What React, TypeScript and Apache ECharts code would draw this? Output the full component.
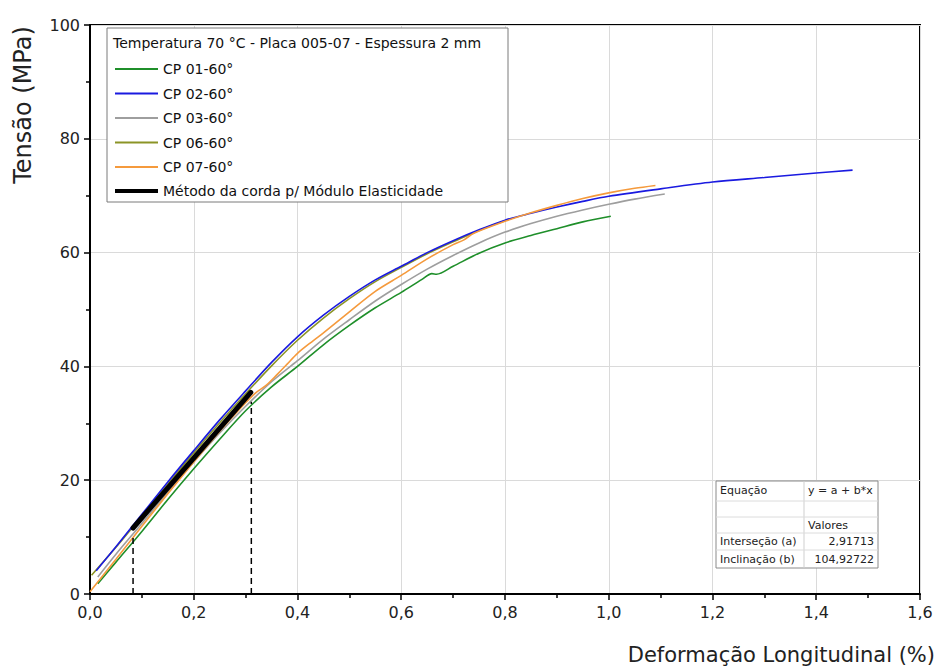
import React, { useEffect, useRef } from "react";
import * as echarts from "echarts";

type Pt = [number, number];

const cp01: Pt[] = [[0.015,1.8],[0.05,5.6],[0.1,11.0],[0.15,16.6],[0.2,22.0],[0.25,27.2],[0.3,32.2],[0.35,36.4],[0.4,40.0],[0.45,43.8],[0.5,47.2],[0.55,50.3],[0.6,53.0],[0.64,55.3],[0.659,56.3],[0.668,56.2],[0.7,57.6],[0.75,59.9],[0.8,61.7],[0.85,63.0],[0.9,64.2],[0.95,65.4],[1.004,66.4]];
const cp02: Pt[] = [[0.012,4.1],[0.05,8.3],[0.1,14.0],[0.15,19.7],[0.2,25.2],[0.25,30.6],[0.3,35.7],[0.35,40.7],[0.4,45.2],[0.45,49.0],[0.5,52.3],[0.55,55.2],[0.6,57.6],[0.65,60.0],[0.7,62.1],[0.75,64.0],[0.8,65.7],[0.85,66.9],[0.9,68.0],[0.95,69.0],[1.0,69.9],[1.1,71.2],[1.2,72.4],[1.3,73.2],[1.4,74.0],[1.47,74.5]];
const cp03: Pt[] = [[0.015,3.0],[0.05,7.0],[0.1,12.4],[0.15,17.9],[0.2,23.2],[0.25,28.3],[0.3,33.0],[0.35,37.3],[0.4,41.0],[0.45,44.8],[0.5,48.2],[0.55,51.5],[0.6,54.4],[0.65,57.1],[0.7,59.5],[0.75,61.7],[0.8,63.6],[0.85,65.1],[0.9,66.4],[0.95,67.5],[1.0,68.5],[1.05,69.4],[1.108,70.3]];
const cp06: Pt[] = [[0.003,3.3],[0.05,8.2],[0.1,13.7],[0.15,19.3],[0.2,24.8],[0.25,30.1],[0.3,35.2],[0.35,40.1],[0.4,44.6],[0.45,48.5],[0.5,51.9],[0.55,54.9],[0.6,57.4],[0.65,59.8],[0.7,61.9],[0.75,63.9],[0.8,65.6]];
const cp07: Pt[] = [[0.0,0.4],[0.05,6.1],[0.1,11.9],[0.15,17.6],[0.2,23.2],[0.25,28.6],[0.3,33.6],[0.32,35.4],[0.34,36.7],[0.36,38.5],[0.38,40.4],[0.4,42.3],[0.43,44.5],[0.45,45.9],[0.5,49.6],[0.55,53.2],[0.6,56.0],[0.65,58.9],[0.7,61.4],[0.72,62.2],[0.74,63.4],[0.8,65.5],[0.85,67.0],[0.9,68.3],[0.95,69.5],[1.0,70.5],[1.05,71.3],[1.09,71.8]];
const chord: Pt[] = [[0.083,11.6],[0.31,35.45]];
const dashLow: Pt[] = [[0.083,0],[0.083,10.3]];
const dashHigh: Pt[] = [[0.311,0],[0.311,33.8]];

const seriesNames = ["CP 01-60°", "CP 02-60°", "CP 03-60°", "CP 06-60°", "CP 07-60°"];
const chordName = "Método da corda p/ Módulo Elasticidade";
const legendTitle = "Temperatura 70 °C - Placa 005-07 - Espessura 2 mm";
const xAxisName = "Deformação Longitudinal (%)";
const yAxisName = "Tensão (MPa)";
const tableRows: [string, string][] = [["Equação", "y = a + b*x"], ["", ""], ["", "Valores"], ["Interseção (a)", "2,91713"], ["Inclinação (b)", "104,92722"]];

const FONT = "DejaVu Sans";

export default function App() {
  const ref = useRef<HTMLDivElement>(null);
  useEffect(() => {
    document.body.style.margin = "0";
    if (!ref.current) return;
    const chart = echarts.init(ref.current, null, { renderer: "svg" });
    const lineSeries = (name: string, data: Pt[], color: string, width = 1.6) => ({
      type: "line", name, data, symbol: "none", smooth: 0.3, color,
      lineStyle: { color, width }, z: 3,
    });
    const rowY = [481, 501, 517, 533, 550, 568];
    const tx0 = 716, tx1 = 878, tcol = 804;
    const tableEls: any[] = [
      { type: "rect", shape: { x: tx0, y: rowY[0], width: tx1 - tx0, height: rowY[5] - rowY[0] }, style: { fill: "#fff", stroke: "#8a8a8a", lineWidth: 1 }, z: 10 },
      { type: "line", shape: { x1: tcol, y1: rowY[0], x2: tcol, y2: rowY[5] }, style: { stroke: "#cfcfcf", lineWidth: 1 }, z: 11 },
    ];
    for (let i = 1; i < 5; i++) {
      tableEls.push({ type: "line", shape: { x1: tx0, y1: rowY[i], x2: tx1, y2: rowY[i] }, style: { stroke: "#dcdcdc", lineWidth: 1 }, z: 11 });
    }
    tableRows.forEach((r, i) => {
      const cy = i === 0 ? 490 : (rowY[i] + rowY[i + 1]) / 2;
      if (r[0]) tableEls.push({ type: "text", x: 720, y: cy, style: { text: r[0], font: `11px "${FONT}"`, fill: "#222", textVerticalAlign: "middle", textAlign: "left" }, z: 12 });
      if (r[1]) {
        const right = i >= 3;
        tableEls.push({ type: "text", x: right ? 874 : 808, y: cy, style: { text: r[1], font: `11px "${FONT}"`, fill: "#222", textVerticalAlign: "middle", textAlign: right ? "right" : "left" }, z: 12 });
      }
    });

    chart.setOption({
      animation: false,
      backgroundColor: "#fff",
      textStyle: { fontFamily: FONT },
      grid: { left: 90, right: 21, top: 25, bottom: 74, show: true, borderColor: "#000", borderWidth: 2, containLabel: false },
      xAxis: {
        type: "value", min: 0, max: 1.6, interval: 0.2,
        axisLine: { show: true, lineStyle: { color: "#000", width: 2 } },
        axisTick: { show: true, length: 6, lineStyle: { color: "#000", width: 1.5 } },
        minorTick: { show: true, splitNumber: 2, length: 4, lineStyle: { color: "#000", width: 1.5 } },
        splitLine: { show: true, lineStyle: { color: "#dadada", width: 1 } },
        axisLabel: { fontSize: 16, color: "#222", margin: 10, fontFamily: FONT, formatter: (v: number) => v.toFixed(1).replace(".", ",") },
      },
      yAxis: {
        type: "value", min: 0, max: 100, interval: 20,
        axisLine: { show: true, lineStyle: { color: "#000", width: 2 } },
        axisTick: { show: true, length: 6, lineStyle: { color: "#000", width: 1.5 } },
        minorTick: { show: true, splitNumber: 2, length: 4, lineStyle: { color: "#000", width: 1.5 } },
        splitLine: { show: true, lineStyle: { color: "#dadada", width: 1 } },
        axisLabel: { fontSize: 16, color: "#222", margin: 10, fontFamily: FONT },
      },
      legend: [
        {
          data: seriesNames, orient: "vertical", left: 110, top: 54, itemWidth: 43, itemHeight: 2, itemGap: 4.5,
          icon: "rect", textStyle: { fontSize: 14, color: "#111", lineHeight: 20, fontFamily: FONT }, z: 8, selectedMode: false,
        },
        {
          data: [chordName], orient: "vertical", left: 110, top: 176, itemWidth: 43, itemHeight: 4, itemGap: 4.5,
          icon: "rect", textStyle: { fontSize: 14, color: "#111", lineHeight: 20, fontFamily: FONT }, z: 8, selectedMode: false,
        },
      ],
      graphic: [
        { type: "rect", shape: { x: 107, y: 28, width: 401, height: 174 }, style: { fill: "#fff", stroke: "#7a7a7a", lineWidth: 1 }, z: 6 },
        { type: "text", x: 113, y: 43, style: { text: legendTitle, font: `14px "${FONT}"`, fill: "#111", textVerticalAlign: "middle" }, z: 9 },
        { type: "text", x: 935, y: 655, style: { text: xAxisName, font: `21px "${FONT}"`, fill: "#222", textAlign: "right", textVerticalAlign: "middle" }, z: 9 },
        { type: "text", x: 23, y: 105, rotation: Math.PI / 2, style: { text: yAxisName, font: `24px "${FONT}"`, fill: "#222", textAlign: "center", textVerticalAlign: "middle" }, z: 9 },
        ...tableEls,
      ],
      series: [
        lineSeries(seriesNames[0], cp01, "#1f8f2a"),
        lineSeries(seriesNames[2], cp03, "#9e9e9e"),
        lineSeries(seriesNames[3], cp06, "#8b9426"),
        lineSeries(seriesNames[1], cp02, "#1a1ae0"),
        lineSeries(seriesNames[4], cp07, "#f59a3c"),
        { type: "line", name: chordName, data: chord, symbol: "none", color: "#000", lineStyle: { color: "#000", width: 5, cap: "round" }, z: 4 },
        { type: "line", name: "dash1", data: dashLow, symbol: "none", color: "#000", lineStyle: { color: "#000", width: 1.5, type: [6, 4] }, z: 4 },
        { type: "line", name: "dash2", data: dashHigh, symbol: "none", color: "#000", lineStyle: { color: "#000", width: 1.5, type: [6, 4] }, z: 4 },
      ],
    });
    return () => chart.dispose();
  }, []);
  return <div ref={ref} style={{ width: 941, height: 668 }} />;
}
